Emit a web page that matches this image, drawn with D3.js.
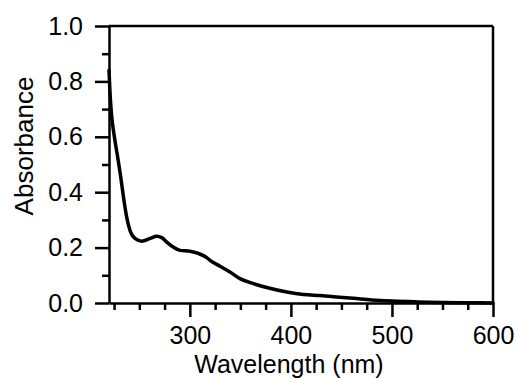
<!DOCTYPE html>
<html>
<head>
<meta charset="utf-8">
<script src="https://cdn.jsdelivr.net/npm/d3@7"></script>
<style>
  html, body { margin: 0; padding: 0; background: #fff; }
  svg text { font-family: "Liberation Sans", Arial, sans-serif; fill: #000; }
</style>
</head>
<body>
<svg id="chart" width="518" height="378"></svg>
<script>
// spectrum
const wavelength = [220, 221, 222.5, 224.9, 228.2, 231.6, 234.2, 237.5, 240.8, 245.7, 252.4,
  260.6, 267.2, 272.2, 277.1, 283.6, 290.3, 300.2, 308.4, 316.7, 320, 329.8, 339.7, 349.6,
  362.8, 376, 395.9, 412.3, 428.8, 445.3, 461.8, 480, 500, 525, 550, 575, 600];
const absorbance = [0.84, 0.76, 0.68, 0.61, 0.535, 0.455, 0.385, 0.31, 0.262, 0.233, 0.223,
  0.233, 0.241, 0.236, 0.220, 0.202, 0.190, 0.187, 0.179, 0.164, 0.154, 0.133, 0.112, 0.088,
  0.070, 0.056, 0.040, 0.031, 0.027, 0.022, 0.017, 0.011, 0.007, 0.004, 0.002, 0.001, 0.0];

const xMajor = [300, 400, 500, 600];
const xMinor = [225, 250, 275, 325, 350, 375, 425, 450, 475, 525, 550, 575];
const yMajor = [0, 0.2, 0.4, 0.6, 0.8, 1.0];
const yMinor = [0.1, 0.3, 0.5, 0.7, 0.9];

const svg = d3.select("#chart"),
  width = +svg.attr("width"),
  height = +svg.attr("height"),
  margin = { top: 26, right: 25, bottom: 75, left: 109 };

const w = width - margin.left - margin.right;
const h = height - margin.top - margin.bottom;

const g = svg.append("g").attr("transform", `translate(${margin.left},${margin.top})`);

const x = d3.scaleLinear().domain([220, 600]).range([0, w]);
const y = d3.scaleLinear().domain([0, 1.0]).range([h, 0]);

const data = wavelength.map((d, i) => ({ x: d, y: absorbance[i] }));

// curve
g.append("path")
  .datum(data)
  .attr("fill", "none")
  .attr("stroke", "#000")
  .attr("stroke-width", 3.5)
  .attr("stroke-linejoin", "round")
  .attr("stroke-linecap", "round")
  .attr("d", d3.line().x(d => x(d.x)).y(d => y(d.y)).curve(d3.curveMonotoneX));

// top + right frame lines
g.append("line").attr("x1", 0).attr("x2", w).attr("y1", 0).attr("y2", 0)
  .attr("stroke", "#000").attr("stroke-width", 2.5);
g.append("line").attr("x1", w).attr("x2", w).attr("y1", 0).attr("y2", h)
  .attr("stroke", "#000").attr("stroke-width", 2.5);

function styleAxis(sel) {
  sel.select(".domain").attr("stroke-width", 2.5);
  sel.selectAll(".tick line").attr("stroke-width", 2.5);
  sel.selectAll("text").attr("font-size", "25px").attr("fill", "#000");
}

// minor ticks
g.append("g").attr("transform", `translate(0,${h})`)
  .call(d3.axisBottom(x).tickValues(xMinor).tickSize(7).tickFormat(""))
  .call(s => s.select(".domain").remove())
  .call(styleAxis);
g.append("g")
  .call(d3.axisLeft(y).tickValues(yMinor).tickSize(7).tickFormat(""))
  .call(s => s.select(".domain").remove())
  .call(styleAxis);

// major ticks
g.append("g").attr("transform", `translate(0,${h})`)
  .call(d3.axisBottom(x).tickValues(xMajor).tickSizeInner(14).tickSizeOuter(0).tickPadding(9).tickFormat(d3.format("d")))
  .call(styleAxis)
  .call(s => s.selectAll("text").attr("dy", "0.71em"));
g.append("g")
  .call(d3.axisLeft(y).tickValues(yMajor).tickSizeInner(14).tickSizeOuter(0).tickPadding(12).tickFormat(d3.format(".1f")))
  .call(styleAxis);

// axis titles
svg.append("text")
  .attr("x", 289).attr("y", 372.5)
  .attr("text-anchor", "middle")
  .attr("font-size", "25px")
  .text("Wavelength (nm)");

svg.append("text")
  .attr("transform", "translate(33,146) rotate(-90)")
  .attr("text-anchor", "middle")
  .attr("font-size", "26px")
  .text("Absorbance");
</script>
</body>
</html>
